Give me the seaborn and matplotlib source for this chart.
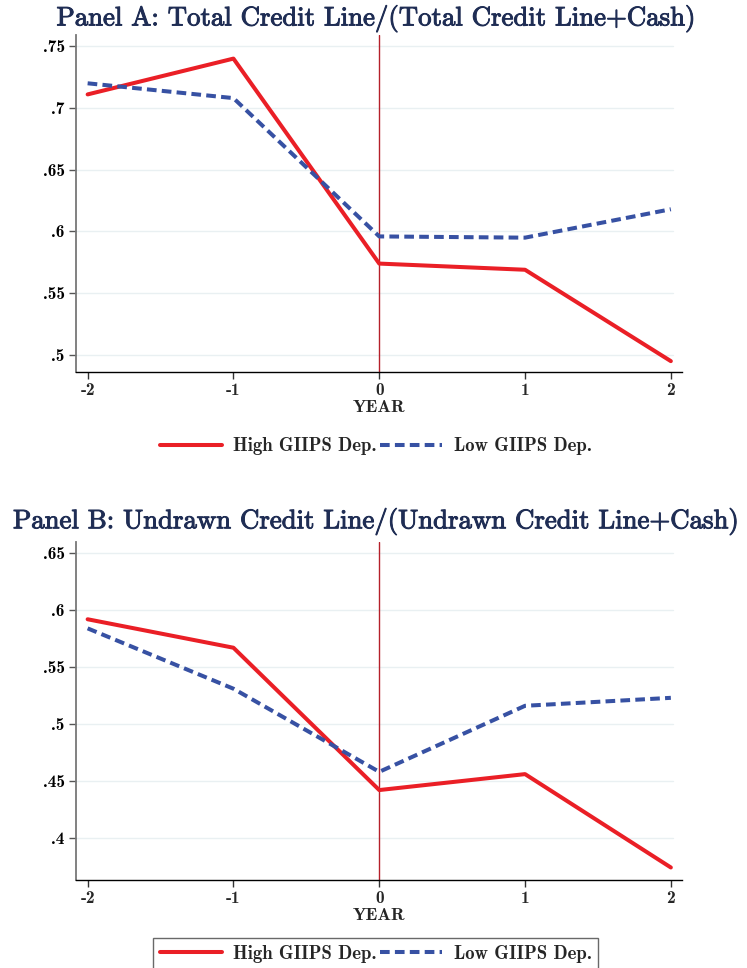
import matplotlib
matplotlib.use("Agg")
import matplotlib.pyplot as plt
import matplotlib.patheffects as pe
import seaborn as sns
import pandas as pd
from matplotlib.lines import Line2D

# Event-time axis (years relative to the shock)
years = [-2, -1, 0, 1, 2]

# Panel A: Total Credit Line / (Total Credit Line + Cash)
total_high = [0.711, 0.740, 0.574, 0.569, 0.495]
total_low = [0.720, 0.708, 0.596, 0.595, 0.618]

# Panel B: Undrawn Credit Line / (Undrawn Credit Line + Cash)
undrawn_high = [0.592, 0.567, 0.442, 0.456, 0.374]
undrawn_low = [0.584, 0.531, 0.458, 0.516, 0.523]

series_names = ["High GIIPS Dep.", "Low GIIPS Dep."]
panel_titles = [
    "Panel A: Total Credit Line/(Total Credit Line+Cash)",
    "Panel B: Undrawn Credit Line/(Undrawn Credit Line+Cash)",
]
yticks_a = [0.5, 0.55, 0.6, 0.65, 0.7, 0.75]
yticklabels_a = [".5", ".55", ".6", ".65", ".7", ".75"]
yticks_b = [0.4, 0.45, 0.5, 0.55, 0.6, 0.65]
yticklabels_b = [".4", ".45", ".5", ".55", ".6", ".65"]
xticklabels = ["-2", "-1", "0", "1", "2"]
xlabel = "YEAR"

sns.set_theme(style="white")
plt.rcParams["axes.unicode_minus"] = False
plt.rcParams["font.family"] = ["cmr10", "DejaVu Serif"]

RED = "#ea1f26"
BLUE = "#3751a3"
TITLE_COLOR = "#1f2d54"
GRID = "#e9f0f2"
LW = 2.9
DASH = (2.4, 1.3)

palette = {series_names[0]: RED, series_names[1]: BLUE}
dash_styles = {series_names[0]: "", series_names[1]: DASH}


def long_frame(high, low):
    return pd.DataFrame({
        "year": years * 2,
        "value": high + low,
        "group": [series_names[0]] * len(years) + [series_names[1]] * len(years),
    })


fig = plt.figure(figsize=(7.47, 9.68), dpi=100)
AX_LEFT, AX_W = 0.1017, 0.811
ax_a = fig.add_axes([AX_LEFT, 0.6157, AX_W, 0.348])
ax_b = fig.add_axes([AX_LEFT, 0.0909, AX_W, 0.349])

# horizontal centre of the page, in axes coordinates
center_x = (0.503 - AX_LEFT) / AX_W

bold = ["cmb10", "DejaVu Serif"]
tick_font = dict(family=bold, size=12.5)

panels = [
    (ax_a, long_frame(total_high, total_low), yticks_a, yticklabels_a,
     (0.4862, 0.759), panel_titles[0], False, -0.147, 7),
    (ax_b, long_frame(undrawn_high, undrawn_low), yticks_b, yticklabels_b,
     (0.363, 0.6597), panel_titles[1], True, -0.145, 10),
]

for ax, df, yt, ytl, ylim, title, framed, leg_y, tpad in panels:
    for yv in yt:
        ax.axhline(yv, color=GRID, lw=1.0, zorder=0, xmax=0.985)
    ax.axvline(0, color="#b5202a", lw=1.0, zorder=1)
    sns.lineplot(data=df, x="year", y="value", hue="group", style="group",
                 palette=palette, dashes=dash_styles, linewidth=LW,
                 legend=False, ax=ax, zorder=3)
    ax.set_xlim(-2.08, 2.075)
    ax.set_ylim(*ylim)
    ax.set_xticks(years)
    ax.set_xticklabels(xticklabels, fontdict=tick_font)
    ax.set_yticks(yt)
    ax.set_yticklabels(ytl, fontdict=tick_font)
    ax.set_xlabel(xlabel, fontdict=dict(family=bold, size=13), labelpad=1)
    ax.set_ylabel("")
    ax.tick_params(axis="both", direction="out", length=5, width=1.0,
                   bottom=True, left=True, pad=3, color="#333333")
    ax.tick_params(axis="y", colors="#555555", labelcolor="black")
    for side in ("top", "right"):
        ax.spines[side].set_visible(False)
    ax.spines["left"].set_color("#777777")
    ax.spines["left"].set_linewidth(1.3)
    ax.spines["bottom"].set_color("black")
    ax.spines["bottom"].set_linewidth(1.0)
    t = ax.set_title(title, fontdict=dict(family=["cmr10", "DejaVu Serif"], size=19.3),
                     color=TITLE_COLOR, pad=tpad, x=center_x)
    t.set_path_effects([pe.withStroke(linewidth=0.7, foreground=TITLE_COLOR)])

    handles = [
        Line2D([], [], color=RED, lw=LW),
        Line2D([], [], color=BLUE, lw=LW, dashes=DASH),
    ]
    leg = ax.legend(handles, series_names, loc="upper center",
                    bbox_to_anchor=(center_x, leg_y),
                    ncol=2, frameon=framed, fancybox=False, handlelength=3.3,
                    handletextpad=0.6, columnspacing=0.2, borderpad=0.35,
                    prop=dict(family=bold, size=13.5))
    if framed:
        leg.get_frame().set_edgecolor("#444444")
        leg.get_frame().set_linewidth(1.0)

fig.savefig("out.png", dpi=100)
